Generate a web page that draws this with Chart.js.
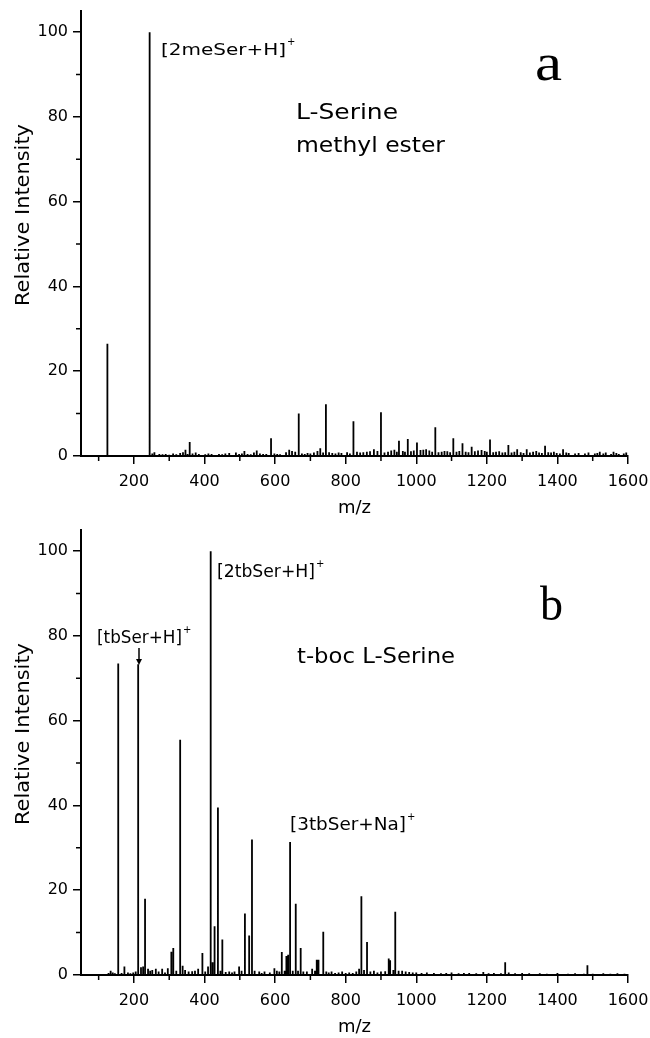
<!DOCTYPE html>
<html>
<head>
<meta charset="utf-8">
<script src="https://cdn.jsdelivr.net/npm/chart.js@4.4.0/dist/chart.umd.min.js"></script>
<style>
body{margin:0;background:#fff}
canvas{display:block}
</style>
</head>
<body>
<canvas id="grafA" width="650" height="519"></canvas>
<canvas id="grafB" width="650" height="519"></canvas>
<script>
// eixos
var limiteX = [50, 1600];
var limiteY = [0, 105];
var ticksX = [200, 400, 600, 800, 1000, 1200, 1400, 1600];
var ticksY = [0, 20, 40, 60, 80, 100];
var menoresX = [100, 300, 500, 700, 900, 1100, 1300, 1500];
var menoresY = [10, 30, 50, 70, 90];

// a - L-Serine methyl ester
var mzA = [124.8, 244.5, 346, 358, 513, 548, 588.5, 640, 648, 667, 720, 728, 744, 822, 880, 900, 938, 951, 976, 1002, 1028, 1054, 1105, 1131, 1157, 1185, 1209, 1261, 1286, 1313, 1340, 1365, 1390, 1416, 1520, 1559];
var intA = [26.5, 100, 1.5, 3.3, 1.2, 1.3, 4.2, 1.5, 1.2, 10, 1.2, 1.8, 12.2, 8.2, 1.6, 10.3, 1.5, 3.6, 4.0, 3.2, 1.6, 6.8, 4.2, 3.0, 2.2, 1.4, 3.9, 2.6, 1.6, 1.6, 1.2, 2.4, 1.0, 1.6, 1.0, 1.0];
var ruidoMzA = [252, 258, 272, 281, 290, 300, 311, 320, 331, 339, 352, 366, 375, 384, 402, 411, 420, 441, 450, 459, 470, 489, 498, 506, 522, 531, 540, 557, 566, 575, 598, 606, 614, 631, 657, 676, 684, 692, 700, 710, 736, 753, 762, 771, 780, 788, 804, 812, 832, 841, 850, 860, 869, 890, 910, 920, 929, 945, 962, 968, 985, 993, 1012, 1020, 1037, 1045, 1063, 1072, 1080, 1088, 1096, 1114, 1122, 1140, 1148, 1166, 1175, 1194, 1200, 1218, 1226, 1235, 1244, 1252, 1270, 1278, 1296, 1304, 1322, 1331, 1348, 1356, 1374, 1382, 1398, 1407, 1425, 1432, 1450, 1460, 1478, 1488, 1506, 1513, 1530, 1537, 1552, 1567, 1574, 1588, 1595];
var ruidoA = [0.6, 0.9, 0.5, 0.4, 0.5, 0.3, 0.6, 0.4, 0.7, 0.9, 0.5, 0.6, 0.8, 0.5, 0.4, 0.6, 0.5, 0.5, 0.4, 0.6, 0.7, 0.8, 0.5, 0.6, 0.5, 0.4, 0.8, 0.6, 0.5, 0.5, 0.6, 0.5, 0.4, 0.9, 1.0, 0.6, 0.5, 0.7, 0.6, 0.8, 0.8, 0.9, 0.7, 0.6, 0.8, 0.7, 0.9, 0.6, 1.0, 0.8, 0.9, 1.0, 1.1, 1.2, 0.8, 1.0, 1.3, 1.0, 1.2, 1.0, 1.1, 1.3, 1.4, 1.5, 1.3, 1.0, 0.9, 1.0, 1.2, 1.1, 0.9, 1.0, 1.2, 1.0, 0.9, 1.1, 1.3, 1.2, 1.0, 0.9, 1.0, 1.1, 0.8, 0.9, 0.8, 1.0, 0.9, 0.7, 0.8, 1.0, 0.8, 0.7, 0.9, 0.8, 0.7, 0.6, 0.8, 0.7, 0.6, 0.7, 0.6, 0.8, 0.6, 0.7, 0.6, 0.8, 0.5, 0.7, 0.5, 0.6, 0.8];

// b - t-boc L-Serine
var mzB = [155.5, 212, 231.5, 306, 311.5, 331, 394, 417.5, 428.5, 438, 450.5, 514.5, 526.5, 534.5, 619, 637, 642.5, 658.5, 672.5, 718, 723, 736.5, 844.5, 860.5, 922, 940.5, 1252, 1485];
var intB = [73.5, 73.3, 18.0, 5.5, 6.4, 55.5, 5.2, 100, 11.5, 39.5, 8.4, 14.5, 9.3, 32, 5.4, 4.8, 31.4, 16.8, 6.4, 3.6, 3.6, 10.2, 18.6, 7.8, 3.9, 14.9, 3.0, 2.3];
var ruidoMzB = [128, 134, 140, 146, 165, 173, 183, 190, 198, 205, 220, 226, 240, 246, 252, 262, 270, 280, 288, 296, 320, 338, 345, 355, 365, 373, 382, 402, 410, 423, 445, 460, 470, 478, 485, 498, 505, 542, 555, 562, 570, 585, 598, 605, 612, 627, 632, 650, 665, 680, 690, 705, 713, 745, 752, 760, 770, 780, 790, 800, 810, 820, 830, 838, 852, 870, 880, 890, 900, 912, 926, 935, 950, 960, 970, 980, 990, 1000, 1015, 1030, 1050, 1070, 1085, 1100, 1120, 1135, 1150, 1170, 1190, 1205, 1220, 1240, 1262, 1280, 1300, 1320, 1350, 1370, 1400, 1430, 1450, 1475, 1500, 1530, 1550, 1570, 1590];
var ruidoB = [0.5, 1.0, 0.6, 0.4, 0.5, 2.0, 0.6, 0.4, 0.6, 0.8, 1.8, 2.0, 1.5, 1.0, 1.2, 1.5, 0.8, 1.5, 0.6, 1.6, 1.0, 2.2, 1.2, 0.8, 0.9, 1.0, 1.5, 0.8, 2.0, 3.0, 1.0, 0.7, 0.8, 0.6, 0.8, 2.0, 1.0, 1.0, 0.8, 0.5, 0.8, 0.6, 1.6, 1.0, 0.8, 1.0, 4.5, 1.0, 1.0, 0.8, 0.8, 1.5, 1.0, 0.8, 0.6, 0.8, 0.5, 0.6, 0.8, 0.5, 0.6, 0.5, 0.8, 1.5, 1.2, 0.8, 1.0, 0.6, 0.8, 0.9, 3.5, 1.2, 1.0, 1.0, 0.8, 0.7, 0.6, 0.6, 0.5, 0.6, 0.5, 0.4, 0.5, 0.6, 0.4, 0.5, 0.5, 0.4, 0.7, 0.4, 0.5, 0.4, 0.6, 0.4, 0.5, 0.4, 0.4, 0.3, 0.5, 0.3, 0.4, 0.3, 0.3, 0.4, 0.3, 0.4, 0.3];

// cada pico vira uma vareta vertical saindo da linha de base
function montar(mz, alt, rmz, ralt){
    var pts = [];
    mz.forEach(function(m, i){ pts.push({x: m, y: alt[i]}); });
    rmz.forEach(function(m, i){ pts.push({x: m, y: ralt[i]}); });
    pts.sort(function(a, b){ return a.x - b.x; });
    var dados = [];
    pts.forEach(function(p){
        dados.push({x: p.x, y: 0}, {x: p.x, y: p.y}, {x: p.x, y: 0});
    });
    return dados;
}

function escrever(ctx, item){
    ctx.font = (item.bold ? 'bold ' : '') + item.size + 'px "' + (item.fam || 'DejaVu Sans') + '"';
    var larg = ctx.measureText(item.t).width;
    var esc = item.w ? item.w / larg : 1;
    ctx.save();
    ctx.translate(item.x, item.y);
    if (item.rot) ctx.rotate(item.rot);
    ctx.scale(esc, 1);
    ctx.textAlign = item.centro ? 'center' : 'left';
    ctx.textBaseline = 'alphabetic';
    ctx.fillText(item.t, 0, 0);
    ctx.restore();
    if (item.sup) {
        ctx.font = '10px "DejaVu Sans"';
        ctx.fillText(item.sup, item.x + item.w + 1, item.y - item.size * 0.6);
    }
}

var extras = {
    id: 'extras',
    afterDraw: function(chart, args, opts){
        var ctx = chart.ctx, sx = chart.scales.x, sy = chart.scales.y;
        ctx.save();
        ctx.strokeStyle = '#000';
        ctx.fillStyle = '#000';
        ctx.lineWidth = 1.5;
        ctx.beginPath();
        menoresX.forEach(function(v){
            var p = sx.getPixelForValue(v);
            ctx.moveTo(p, sy.bottom); ctx.lineTo(p, sy.bottom + 5);
        });
        menoresY.forEach(function(v){
            var p = sy.getPixelForValue(v);
            ctx.moveTo(sx.left, p); ctx.lineTo(sx.left - 5, p);
        });
        ctx.stroke();
        escrever(ctx, {t: 'Relative Intensity', x: 29, y: 215, size: 20, w: 182, rot: -Math.PI / 2, centro: true});
        (opts.textos || []).forEach(function(item){ escrever(ctx, item); });
        if (opts.seta) {
            var s = opts.seta;
            ctx.beginPath();
            ctx.moveTo(s[0], s[1]); ctx.lineTo(s[0], s[2] - 4);
            ctx.stroke();
            ctx.beginPath();
            ctx.moveTo(s[0] - 3, s[2] - 6); ctx.lineTo(s[0] + 3, s[2] - 6); ctx.lineTo(s[0], s[2]);
            ctx.closePath();
            ctx.fill();
        }
        ctx.restore();
    }
};

function opcoes(textos, seta){
    var fonteTick = {family: 'DejaVu Sans', size: 16};
    var semVirgula = function(v){ return String(v); };
    return {
        responsive: false,
        animation: false,
        layout: {padding: {left: 0, top: 11, right: 22, bottom: 0}},
        plugins: {
            legend: {display: false},
            tooltip: {enabled: false},
            extras: {textos: textos, seta: seta}
        },
        scales: {
            x: {
                type: 'linear', min: limiteX[0], max: limiteX[1],
                afterBuildTicks: function(s){ s.ticks = ticksX.map(function(v){ return {value: v}; }); },
                afterFit: function(s){ s.height = 63; s.paddingLeft = 0; s.paddingRight = 0; },
                ticks: {color: '#000', font: fonteTick, padding: 8, maxRotation: 0, autoSkip: false, callback: semVirgula},
                grid: {drawOnChartArea: false, drawTicks: true, tickLength: 8, color: '#000', lineWidth: 1.5},
                border: {color: '#000', width: 2},
                title: {display: true, text: 'm/z', color: '#000', font: {family: 'DejaVu Sans', size: 18}, padding: {top: 0, bottom: 0}}
            },
            y: {
                type: 'linear', min: limiteY[0], max: limiteY[1],
                afterBuildTicks: function(s){ s.ticks = ticksY.map(function(v){ return {value: v}; }); },
                afterFit: function(s){ s.width = 81; s.paddingTop = 0; s.paddingBottom = 0; },
                ticks: {color: '#000', font: fonteTick, padding: 5, callback: semVirgula},
                grid: {drawOnChartArea: false, drawTicks: true, tickLength: 8, color: '#000', lineWidth: 1.5},
                border: {color: '#000', width: 2}
            }
        }
    };
}

function grafico(id, dados, textos, seta){
    var ctx = document.getElementById(id).getContext('2d');
    return new Chart(ctx, {
        type: 'line',
        data: {
            datasets: [{
                data: dados,
                borderColor: '#000',
                borderWidth: 1.8,
                pointRadius: 0,
                tension: 0,
                fill: false
            }]
        },
        options: opcoes(textos, seta),
        plugins: [extras]
    });
}

grafico('grafA', montar(mzA, intA, ruidoMzA, ruidoA), [
    {t: '[2meSer+H]', sup: '+', x: 161, y: 55, size: 16, w: 125},
    {t: 'a', x: 535, y: 80, size: 52, w: 27, fam: 'Liberation Serif'},
    {t: 'L-Serine', x: 296, y: 119, size: 22, w: 102},
    {t: 'methyl ester', x: 296, y: 152, size: 22, w: 149}
]);

grafico('grafB', montar(mzB, intB, ruidoMzB, ruidoB), [
    {t: '[2tbSer+H]', sup: '+', x: 217, y: 58, size: 17, w: 98},
    {t: '[tbSer+H]', sup: '+', x: 97, y: 124, size: 17, w: 85},
    {t: 't-boc L-Serine', x: 297, y: 144, size: 22, w: 158},
    {t: 'b', x: 540, y: 101, size: 48, w: 23, fam: 'Liberation Serif'},
    {t: '[3tbSer+Na]', sup: '+', x: 290, y: 311, size: 17, w: 116}
], [139, 129, 146]);
</script>
</body>
</html>
